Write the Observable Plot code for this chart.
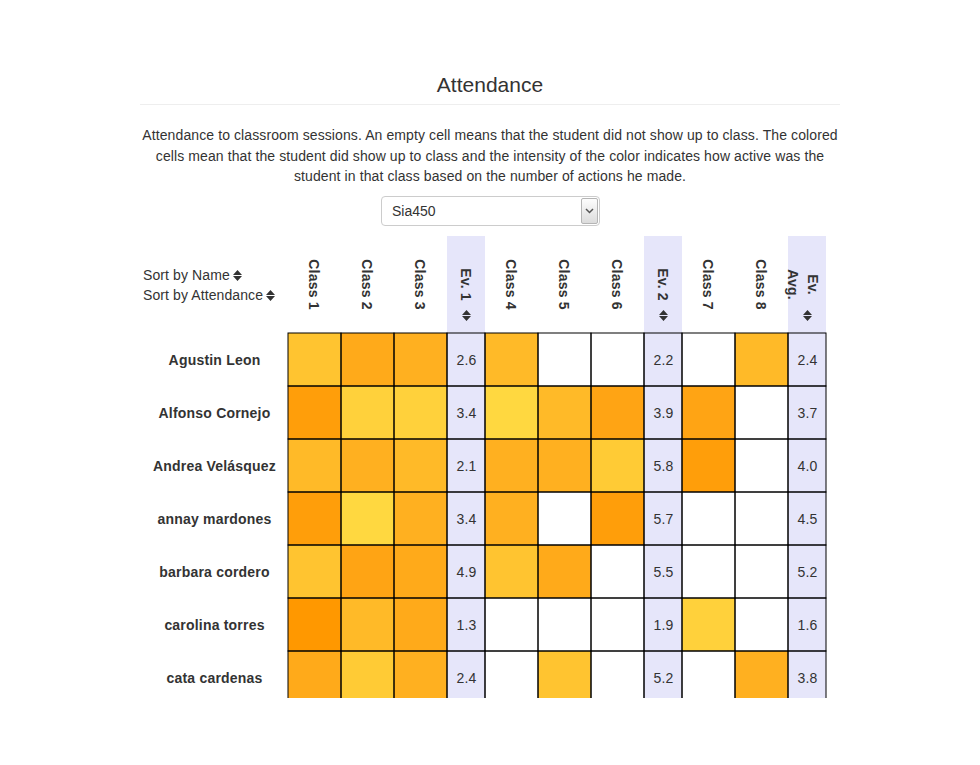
<!DOCTYPE html>
<html>
<head>
<meta charset="utf-8">
<script src="https://cdn.jsdelivr.net/npm/d3@7"></script>
<script src="https://cdn.jsdelivr.net/npm/@observablehq/plot@0.6"></script>
<style>
  body { margin: 0; background: #fff; font-family: "Liberation Sans", Arial, Helvetica, sans-serif; color: #333; font-size: 14px; }
  #wrap { position: absolute; left: 140px; top: 0; width: 700px; height: 765px; }
  .title { position: absolute; top: 73px; left: 0; width: 700px; text-align: center; font-size: 21px; line-height: 23px; }
  .rule { position: absolute; top: 104px; left: 0; width: 700px; border-top: 1px solid #eee; }
  .desc { position: absolute; top: 125px; left: 0; width: 700px; text-align: center; line-height: 20.5px; letter-spacing: 0.1px; }
  .sel { position: absolute; left: 241px; top: 196px; width: 217px; height: 28px; border: 1px solid #ccc; border-radius: 4px; background: #fff; }
  .sel .val { position: absolute; left: 10px; top: 0; line-height: 28px; }
  .sel .btn { position: absolute; right: 1px; top: 1px; width: 15px; height: 24px; border: 1px solid #b5b5b5; border-radius: 2px; background: linear-gradient(#fdfdfd, #dcdcdc); }
  .sel .btn svg { position: absolute; left: 3px; top: 9px; }
  .sort { position: absolute; left: 3px; line-height: 20px; white-space: nowrap; z-index: 2; letter-spacing: 0.1px; }
  .sort svg { vertical-align: -1px; margin-left: 3px; }
  #chart { position: absolute; left: 0; top: 236px; width: 700px; height: 462px; overflow: hidden; z-index: 1; }
  #chart text { letter-spacing: 0.2px; }
</style>
</head>
<body>
<div id="wrap">
  <div class="title">Attendance</div>
  <div class="rule"></div>
  <div class="desc">Attendance to classroom sessions. An empty cell means that the student did not show up to class. The colored cells mean that the student did show up to class and the intensity of the color indicates how active was the student in that class based on the number of actions he made.</div>
  <div class="sel"><span class="val">Sia450</span><div class="btn"><svg width="9" height="6" viewBox="0 0 9 6"><path d="M1 1L4.5 4.5L8 1" fill="none" stroke="#555" stroke-width="1.5"/></svg></div></div>
  <div id="chart"></div>
  <div class="sort" style="top:265px">Sort by Name<svg width="9" height="11" viewBox="0 0 9 11"><path d="M0 5L4.5 0L9 5Z M0 6L9 6L4.5 11Z" fill="#333"/></svg></div>
  <div class="sort" style="top:285px">Sort by Attendance<svg width="9" height="11" viewBox="0 0 9 11"><path d="M0 5L4.5 0L9 5Z M0 6L9 6L4.5 11Z" fill="#333"/></svg></div>
</div>
<script>
// ---- data ----
const students = ["Agustin Leon", "Alfonso Cornejo", "Andrea Velásquez", "annay mardones", "barbara cordero", "carolina torres", "cata cardenas"];
const columns = ["Class 1", "Class 2", "Class 3", "Ev. 1", "Class 4", "Class 5", "Class 6", "Ev. 2", "Class 7", "Class 8", "Ev. Avg."];
const classNames = ["Class 1", "Class 2", "Class 3", "Class 4", "Class 5", "Class 6", "Class 7", "Class 8"];
// activity level per class (null = did not attend)
const agustinActions  = [4, 7, 6, 5, null, null, null, 5];
const alfonsoActions  = [9, 2, 2, 1, 5, 8, 8, null];
const andreaActions   = [5, 6, 5, 6, 6, 3, 9, null];
const annayActions    = [9, 1, 6, 6, null, 9, null, null];
const barbaraActions  = [4, 8, 7, 4, 7, null, null, null];
const carolinaActions = [10, 5, 7, null, null, null, 2, null];
const cataActions     = [7, 3, 6, null, 4, null, null, 6];
const ev1   = [2.6, 3.4, 2.1, 3.4, 4.9, 1.3, 2.4];
const ev2   = [2.2, 3.9, 5.8, 5.7, 5.5, 1.9, 5.2];
const evAvg = [2.4, 3.7, 4.0, 4.5, 5.2, 1.6, 3.8];

const actionsByStudent = [agustinActions, alfonsoActions, andreaActions, annayActions, barbaraActions, carolinaActions, cataActions];
const evByColumn = {"Ev. 1": ev1, "Ev. 2": ev2, "Ev. Avg.": evAvg};

// ---- layout (column widths) ----
const classW = 53, evW = 38;
const isEv = c => c.startsWith("Ev");
let acc = 0;
const colPos = {};
for (const c of columns) { const w = isEv(c) ? evW : classW; colPos[c] = {x1: acc, x2: acc + w, xm: acc + w / 2}; acc += w; }
const total = acc;

const cells = [];
students.forEach((s, i) => {
  columns.forEach(c => {
    const p = colPos[c];
    if (isEv(c)) cells.push({student: s, col: c, ...p, ev: true, value: evByColumn[c][i]});
    else cells.push({student: s, col: c, ...p, ev: false, value: actionsByStudent[i][classNames.indexOf(c)]});
  });
});
const evCols = columns.filter(isEv).map(c => ({col: c, ...colPos[c]}));
const headerCols = columns.filter(c => c !== "Ev. Avg.").map(c => ({col: c, ...colPos[c]}));

const sortSymbol = {
  draw(ctx) {
    ctx.moveTo(-4.5, -0.5); ctx.lineTo(0, -5.5); ctx.lineTo(4.5, -0.5); ctx.closePath();
    ctx.moveTo(-4.5, 0.5); ctx.lineTo(4.5, 0.5); ctx.lineTo(0, 5.5); ctx.closePath();
  }
};

const chart = Plot.plot({
  width: 700,
  height: 468,
  marginLeft: 148,
  marginRight: 14,
  marginTop: 97,
  marginBottom: 0,
  x: {type: "linear", domain: [0, total], axis: null},
  y: {type: "band", domain: students, padding: 0, axis: null},
  color: {type: "linear", domain: [1, 4, 6, 8, 10], range: ["#FFD840", "#FFC430", "#FFB020", "#FFA414", "#FF9800"]},
  style: {fontFamily: "'Liberation Sans', Arial, sans-serif", fontSize: "14px", color: "#333", background: "white", overflow: "visible"},
  marks: [
    Plot.barX(evCols, {x1: "x1", x2: "x2", fill: "#E6E6FA", insetTop: -97}),
    Plot.barX(cells.filter(d => !d.ev && d.value != null), {x1: "x1", x2: "x2", y: "student", fill: "value"}),
    Plot.barX(cells, {x1: "x1", x2: "x2", y: "student", fill: "none", stroke: "black", strokeWidth: 1}),
    Plot.text(cells.filter(d => d.ev), {x: "xm", y: "student", dy: 0.5, text: d => d.value.toFixed(1), fill: "#333", fontSize: 14}),
    Plot.text(students, {y: d => d, frameAnchor: "left", dx: -74, dy: 0.5, textAnchor: "middle", text: d => d, fontWeight: "bold", fill: "#333", fontSize: 14}),
    Plot.text(headerCols, {x: "xm", frameAnchor: "top", dy: -49, dx: 4, rotate: 90, textAnchor: "middle", text: "col", fontWeight: "bold", fill: "#333", fontSize: 14}),
    Plot.text([{col: "Ev.\nAvg.", ...colPos["Ev. Avg."]}], {x: "xm", frameAnchor: "top", dy: -49, dx: 15, rotate: 90, textAnchor: "middle", lineHeight: 1.43, text: "col", fontWeight: "bold", fill: "#333", fontSize: 14}),
    Plot.dot(evCols, {x: "xm", frameAnchor: "top", dy: -18, symbol: sortSymbol, fill: "#333", stroke: "none", r: 5})
  ]
});
document.getElementById("chart").appendChild(chart);
</script>
</body>
</html>
